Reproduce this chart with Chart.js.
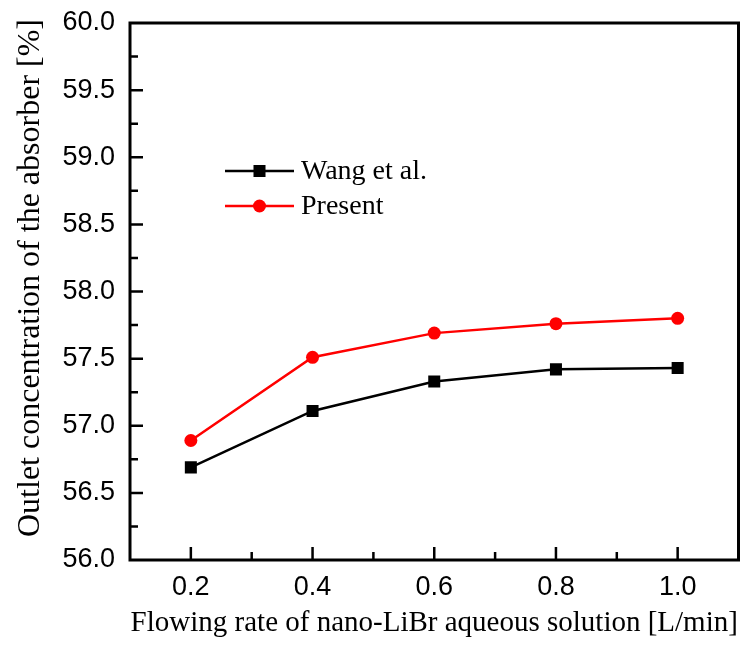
<!DOCTYPE html>
<html>
<head>
<meta charset="utf-8">
<script src="https://cdn.jsdelivr.net/npm/chart.js@4/dist/chart.umd.min.js"></script>
<style>
  html, body { margin: 0; padding: 0; background: #fff; }
  #wrap { width: 747px; height: 645px; }
</style>
</head>
<body>
<div id="wrap"><canvas id="chart" width="747" height="645"></canvas></div>
<script>
'use strict';

// Flow rate [L/min]
const flowRates = [0.2, 0.4, 0.6, 0.8, 1.0];
// Outlet concentration [%]
const wangValues = [56.69, 57.11, 57.33, 57.42, 57.43];
const presentValues = [56.89, 57.51, 57.69, 57.76, 57.80];

const xTitle = 'Flowing rate of nano-LiBr aqueous solution [L/min]';
const yTitle = 'Outlet concentration of the absorber [%]';

const SERIF = '"Liberation Serif", "Times New Roman", serif';
const SANS = '"Liberation Sans", Arial, sans-serif';

function toPoints(xs, ys) {
    return xs.map((x, i) => ({x: x, y: ys[i]}));
}

// Frame plus inward major/minor ticks, like the original Origin plot.
const framePlugin = {
    id: 'frame',
    afterDraw(chart) {
        const ctx = chart.ctx;
        const a = chart.chartArea;
        const xs = chart.scales.x, ys = chart.scales.y;
        ctx.save();
        ctx.strokeStyle = '#000';
        ctx.lineWidth = 2.5;
        ctx.lineCap = 'butt';
        ctx.beginPath();
        for (let v = 0.2; v <= 1.0001; v += 0.1) {
            const px = xs.getPixelForValue(v);
            const major = Math.round(v * 10) % 2 == 0;
            const len = major ? 13 : 8;
            ctx.moveTo(px, a.bottom);
            ctx.lineTo(px, a.bottom - len);
        }
        for (let v = 56.25; v < 60; v += 0.25) {
            const py = ys.getPixelForValue(v);
            const major = Math.round(v * 4) % 2 == 0;
            const len = major ? 13 : 8;
            ctx.moveTo(a.left, py);
            ctx.lineTo(a.left + len, py);
        }
        ctx.stroke();
        ctx.lineWidth = 3;
        ctx.strokeRect(a.left, a.top, a.right - a.left, a.bottom - a.top);

        // y axis title, placed a little above the plot's centre as in the figure
        ctx.fillStyle = '#000';
        ctx.font = '32px ' + SERIF;
        ctx.textAlign = 'center';
        ctx.textBaseline = 'middle';
        ctx.translate(31, 278);
        ctx.rotate(-Math.PI / 2);
        ctx.fillText(yTitle, 0, 0);
        ctx.restore();
    }
};

// Legend inside the plot, drawn from the dataset styles.
const legendPlugin = {
    id: 'innerLegend',
    afterDatasetsDraw(chart) {
        const ctx = chart.ctx;
        const x0 = 225, x1 = 294, rows = [171, 206];
        ctx.save();
        chart.data.datasets.forEach((ds, i) => {
            const y = rows[i];
            ctx.strokeStyle = ds.borderColor;
            ctx.lineWidth = ds.borderWidth;
            ctx.beginPath();
            ctx.moveTo(x0, y);
            ctx.lineTo(x1, y);
            ctx.stroke();
            ctx.fillStyle = ds.pointBackgroundColor;
            ctx.strokeStyle = ds.pointBorderColor;
            Chart.helpers.drawPoint(ctx, {
                pointStyle: ds.pointStyle,
                radius: ds.pointRadius,
                borderWidth: 0
            }, (x0 + x1) / 2, y);
            ctx.fillStyle = '#000';
            ctx.font = '28px ' + SERIF;
            ctx.textAlign = 'left';
            ctx.textBaseline = 'middle';
            ctx.fillText(ds.label, 301, y + 1);
        });
        ctx.restore();
    }
};

const chart = new Chart(document.getElementById('chart'), {
    type: 'line',
    data: {
        datasets: [
            {
                label: 'Wang et al.',
                data: toPoints(flowRates, wangValues),
                borderColor: '#000',
                backgroundColor: '#000',
                pointBackgroundColor: '#000',
                pointBorderColor: '#000',
                borderWidth: 2.5,
                pointStyle: 'rect',
                pointRadius: 8.5,
                pointBorderWidth: 0,
                tension: 0,
            },
            {
                label: 'Present',
                data: toPoints(flowRates, presentValues),
                borderColor: '#ff0000',
                backgroundColor: '#ff0000',
                pointBackgroundColor: '#ff0000',
                pointBorderColor: '#ff0000',
                borderWidth: 2.5,
                pointStyle: 'circle',
                pointRadius: 6.5,
                pointBorderWidth: 0,
                tension: 0,
            },
        ],
    },
    options: {
        responsive: false,
        animation: false,
        devicePixelRatio: 1,
        layout: { padding: { top: 23, right: 7, left: 0, bottom: 0 } },
        plugins: {
            legend: { display: false },
            tooltip: { enabled: false },
        },
        scales: {
            x: {
                type: 'linear',
                min: 0.1,
                max: 1.1,
                afterBuildTicks: (s) => { s.ticks = flowRates.map(v => ({value: v})); },
                afterFit: (s) => { s.height = 85; s.paddingLeft = 0; s.paddingRight = 0; },
                grid: { display: false, drawTicks: false },
                border: { display: false },
                ticks: {
                    color: '#000',
                    font: { family: SANS, size: 27 },
                    padding: 11,
                    callback: (v) => v.toFixed(1),
                },
                title: {
                    display: true,
                    text: xTitle,
                    color: '#000',
                    font: { family: SERIF, size: 29 },
                    padding: { top: 0, bottom: 4 },
                },
            },
            y: {
                min: 56,
                max: 60,
                afterFit: (s) => { s.width = 130; s.paddingTop = 0; s.paddingBottom = 0; },
                grid: { display: false, drawTicks: false },
                border: { display: false },
                ticks: {
                    stepSize: 0.5,
                    color: '#000',
                    font: { family: SANS, size: 27 },
                    padding: 15,
                    callback: (v) => v.toFixed(1),
                },
            },
        },
    },
    plugins: [framePlugin, legendPlugin],
});
</script>
</body>
</html>
